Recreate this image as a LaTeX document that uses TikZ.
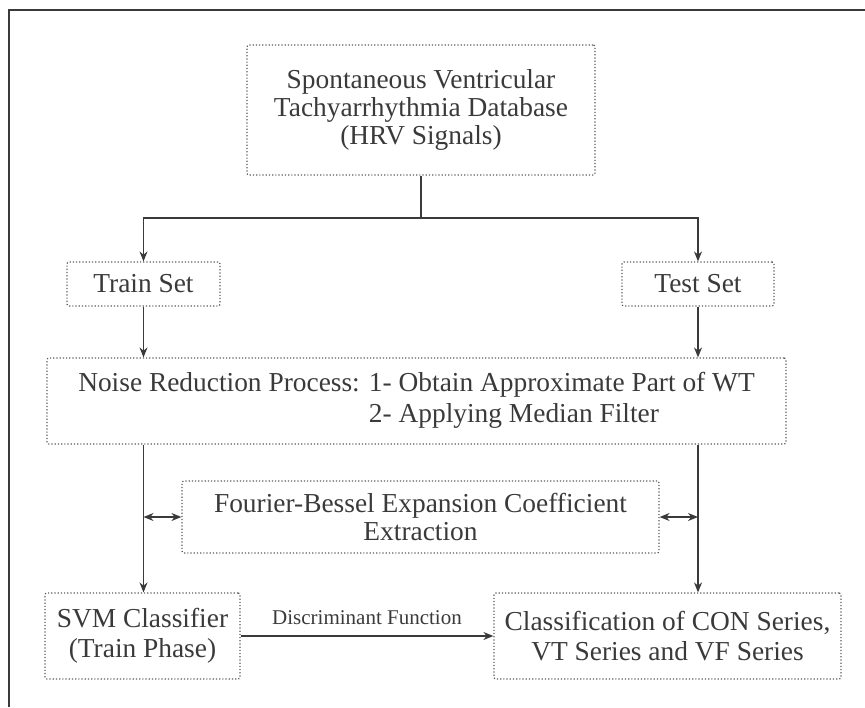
\documentclass[tikz,border=0pt]{standalone}
\usepackage{fontspec}
\setmainfont{Liberation Serif}
\usepackage{tikz}
\usetikzlibrary{arrows.meta,calc,positioning}
\definecolor{ink}{HTML}{3A3A3A}
\definecolor{dots}{HTML}{5A5A5A}

\begin{document}
\begin{tikzpicture}[
    x=0.5pt,y=-0.5pt,
    box/.style={draw=dots,densely dotted,line width=0.6pt,rounded corners=1pt,
                align=center,text=ink,font=\fontsize{13.7}{14}\selectfont,inner sep=0pt},
    flow/.style={draw=ink,line width=0.7pt,-{Stealth[length=5pt,width=4pt]}},
    both/.style={flow,{Stealth[length=5pt,width=4pt]}-{Stealth[length=5pt,width=4pt]}}
  ]
    \useasboundingbox (0,0) rectangle (865,707);
    % frame
    \draw[ink,line width=0.8pt] (9,707) -- (9,10) -- (866,10);
    % boxes
    \node[box,minimum width=174pt,minimum height=65pt] (db) at (421,110)
      {Spontaneous Ventricular\\Tachyarrhythmia Database\\(HRV Signals)};
    \node[box,minimum width=76.5pt,minimum height=22pt] (train) at (143.5,284) {Train Set};
    \node[box,minimum width=76pt,minimum height=22pt] (test) at (698,284) {Test Set};
    \node[box,minimum width=369.5pt,minimum height=43pt] (noise) at (416.5,401)
      {\begin{tabular}{@{}r@{ }l@{}}Noise Reduction Process: & 1- Obtain Approximate Part of WT\\[1.5pt]
       & 2- Applying Median Filter\end{tabular}};
    \node[box,minimum width=238.5pt,minimum height=36pt] (fb) at (420.5,517)
      {Fourier-Bessel Expansion Coefficient\\Extraction};
    \node[box,minimum width=97.5pt,minimum height=43pt] (svm) at (142.5,636)
      {SVM Classifier\\[1pt](Train Phase)};
    \node[box,minimum width=173.5pt,minimum height=43pt] (cls) at (667.5,636)
      {Classification of CON Series,\\[1pt]VT Series and VF Series};
    \coordinate (split) at (421,218);
    % connectors
    \draw[ink,line width=0.7pt] (db.south) -- (split);
    \draw[flow] (split) -| (train.north);
    \draw[flow] (split) -| (test.north);
    \draw[flow] (train.south) -- (train.south |- noise.north);
    \draw[flow] (test.south) -- (test.south |- noise.north);
    \draw[flow] (noise.south -| train) -- (train |- svm.north);
    \draw[flow] (noise.south -| test) -- (test |- cls.north);
    \draw[both] (train |- fb.west) -- (fb.west);
    \draw[both] (fb.east) -- (test |- fb.east);
    \draw[flow] (svm.east) -- node[above=2pt,text=ink,font=\fontsize{10.5}{11}\selectfont] {Discriminant Function} (cls.west);
  \end{tikzpicture}
\end{document}
